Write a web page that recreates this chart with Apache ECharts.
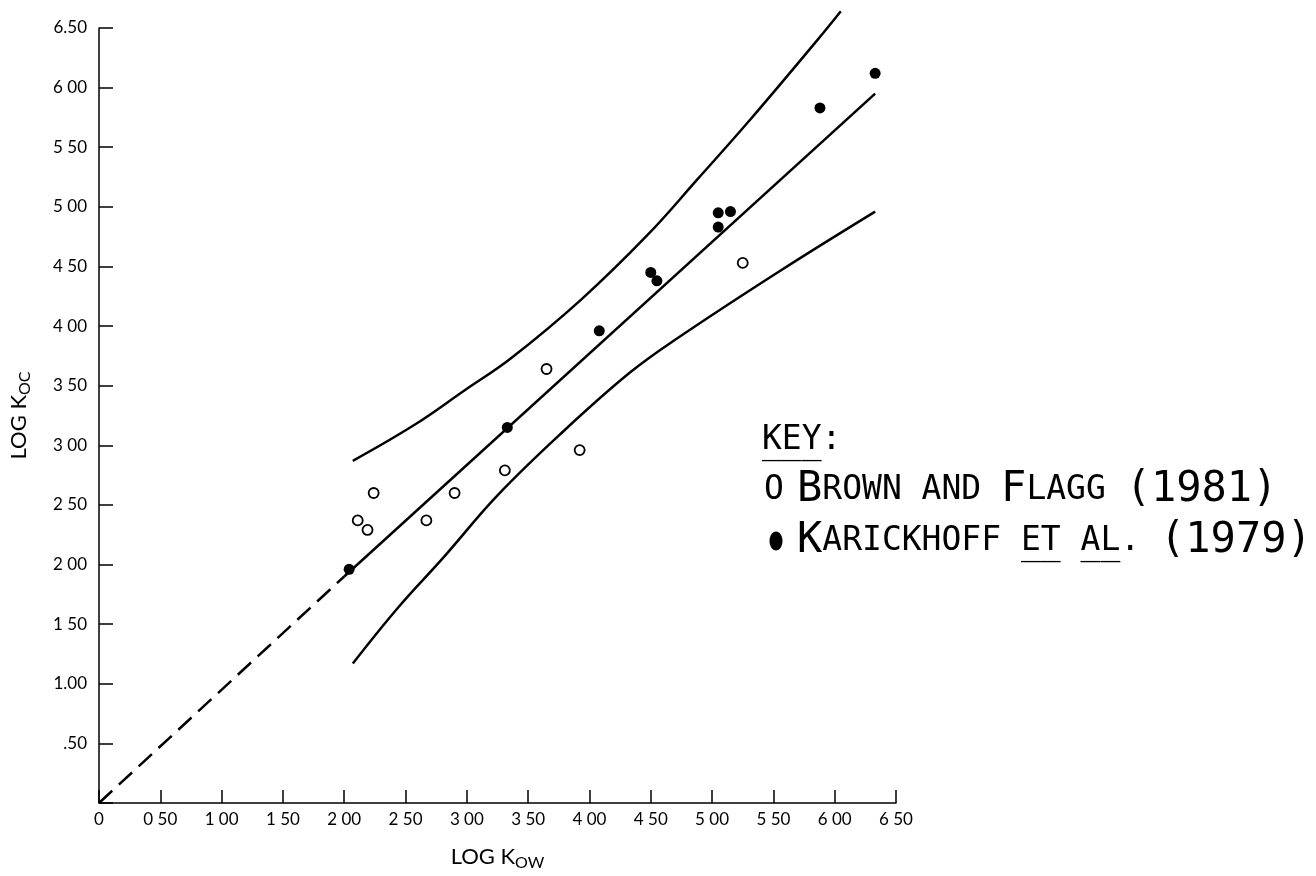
<!DOCTYPE html>
<html>
<head>
<meta charset="utf-8">
<title>LOG Koc vs LOG Kow</title>
<script src="https://cdn.jsdelivr.net/npm/echarts@6/dist/echarts.min.js"></script>
<style>
  html, body { margin: 0; padding: 0; background: #fff; }
  #chart { width: 1316px; height: 876px; }
</style>
</head>
<body>
<div id="chart"></div>
<script>
// tick labels as they are printed on the figure (decimal points mostly lost)
var xTickLabels = ['0', '0 50', '1 00', '1 50', '2 00', '2 50', '3 00', '3 50', '4 00', '4 50', '5 00', '5 50', '6 00', '6 50'];
var yTickLabels = ['', '.50', '1.00', '1 50', '2 00', '2 50', '3 00', '3 50', '4 00', '4 50', '5 00', '5 50', '6 00', '6.50'];

// Brown and Flagg (1981)  [log Kow, log Koc]
var brownFlagg = [
  [2.11, 2.37], [2.19, 2.29], [2.24, 2.60], [2.67, 2.37], [2.90, 2.60],
  [3.31, 2.79], [3.65, 3.64], [3.92, 2.96], [5.25, 4.53]
];
// Karickhoff et al. (1979)
var karickhoff = [
  [2.04, 1.96], [3.33, 3.15], [4.08, 3.96], [4.50, 4.45], [4.55, 4.38],
  [5.05, 4.95], [5.05, 4.83], [5.15, 4.96], [5.88, 5.83], [6.33, 6.12]
];
// regression line; dashed part is the extrapolation down to the origin
var fitDashed = [[0, 0], [2.0, 1.9]];
var fitSolid = [[2.0, 1.9], [6.33, 5.95]];
// confidence band
var upperBand = [
  [2.07, 2.87], [2.57, 3.17], [2.98, 3.46], [3.36, 3.73], [3.93, 4.22],
  [4.47, 4.76], [4.88, 5.23], [5.31, 5.73], [5.86, 6.40], [6.05, 6.64]
];
var lowerBand = [
  [2.07, 1.17], [2.44, 1.64], [2.81, 2.06], [3.25, 2.58], [3.79, 3.12],
  [4.33, 3.61], [4.72, 3.90], [5.55, 4.46], [6.33, 4.96]
];

var ink = '#000';
var keyFont = '"DejaVu Sans Mono", monospace';
var keyRich = {
  big: { fontFamily: keyFont, fontSize: 42, fill: ink },
  sm: { fontFamily: keyFont, fontSize: 33, fill: ink }
};
var nameRich = {
  a: { fontFamily: 'Lato', fontSize: 22, color: ink, lineHeight: 28 },
  s: { fontFamily: 'Lato', fontSize: 16, color: ink, lineHeight: 14, verticalAlign: 'bottom' }
};

function lineSeries(data, dash, smooth) {
  return {
    type: 'line',
    data: data,
    symbol: 'none',
    smooth: smooth,
    clip: false,
    silent: true,
    z: 2,
    lineStyle: { color: ink, width: 2.5, type: dash || 'solid' }
  };
}

function keyText(x, y, text) {
  return { type: 'text', x: x, y: y, style: { text: text, rich: keyRich, verticalAlign: 'middle' } };
}

var chart = echarts.init(document.getElementById('chart'));
chart.setOption({
  animation: false,
  backgroundColor: '#fff',
  grid: { left: 97, right: 420, top: 28, bottom: 69 },
  xAxis: {
    type: 'value',
    min: 0,
    max: 6.5,
    interval: 0.5,
    name: '{a|LOG K}{s|OW}',
    nameLocation: 'middle',
    nameGap: 40,
    nameTextStyle: { rich: nameRich },
    splitLine: { show: false },
    axisLine: { lineStyle: { color: ink, width: 1.5 } },
    axisTick: { inside: true, length: 13, lineStyle: { color: ink, width: 1.5 } },
    axisLabel: {
      margin: 8,
      fontFamily: 'Lato',
      fontSize: 17,
      color: ink,
      formatter: function (v) { return xTickLabels[Math.round(v / 0.5)]; }
    }
  },
  yAxis: {
    type: 'value',
    min: 0,
    max: 6.5,
    interval: 0.5,
    name: '{a|LOG K}{s|OC}',
    nameLocation: 'middle',
    nameGap: 66,
    nameRotate: 90,
    nameTextStyle: { rich: nameRich },
    splitLine: { show: false },
    axisLine: { lineStyle: { color: ink, width: 1.5 } },
    axisTick: { inside: true, length: 14, lineStyle: { color: ink, width: 1.5 } },
    axisLabel: {
      margin: 12,
      fontFamily: 'Lato',
      fontSize: 17,
      color: ink,
      formatter: function (v) { return yTickLabels[Math.round(v / 0.5)]; }
    }
  },
  series: [
    lineSeries(fitDashed, [18, 9], false),
    lineSeries(fitSolid, 'solid', false),
    lineSeries(upperBand, 'solid', 0.4),
    lineSeries(lowerBand, 'solid', 0.4),
    {
      name: 'Brown and Flagg (1981)',
      type: 'scatter',
      data: brownFlagg,
      symbol: 'circle',
      symbolSize: 10,
      z: 3,
      itemStyle: { color: '#fff', borderColor: ink, borderWidth: 1.8, opacity: 1 }
    },
    {
      name: 'Karickhoff et al. (1979)',
      type: 'scatter',
      data: karickhoff,
      symbol: 'circle',
      symbolSize: 11,
      z: 3,
      itemStyle: { color: ink, opacity: 1 }
    }
  ],
  // hand-typed key of the original figure
  graphic: [
    keyText(762, 440, '{sm|KEY:}'),
    keyText(762, 444, '{sm|___}'),
    keyText(764, 490, '{sm|O}'),
    keyText(797, 490, '{big|B}{sm|ROWN AND }{big|F}{sm|LAGG }{big|(1981)}'),
    { type: 'ellipse', shape: { cx: 776, cy: 541, rx: 6.5, ry: 9.5 }, style: { fill: ink } },
    keyText(797, 541, '{big|K}{sm|ARICKHOFF ET AL. }{big|(1979)}'),
    keyText(797, 545, '{big| }{sm|          __ __  }{big|      }')
  ]
});
</script>
</body>
</html>
